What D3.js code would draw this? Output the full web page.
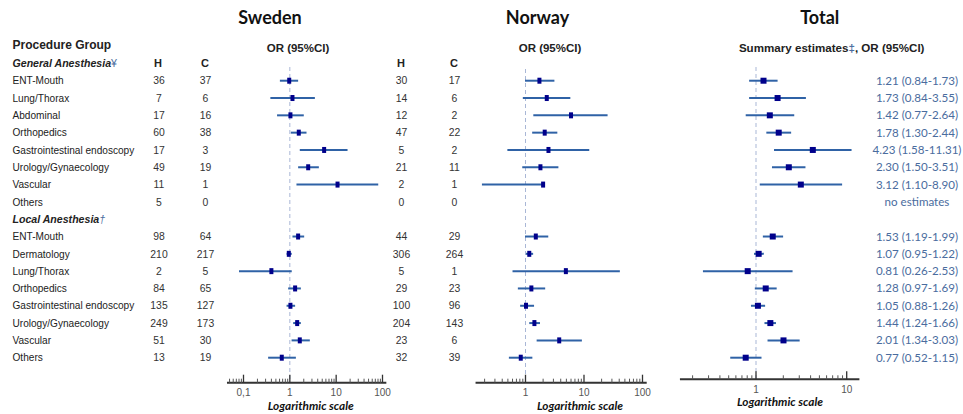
<!DOCTYPE html>
<html><head><meta charset="utf-8">
<script src="https://cdn.jsdelivr.net/npm/d3@7"></script>
<style>
html,body{margin:0;padding:0;background:#fff;}
svg{display:block;}
</style></head>
<body>
<svg id="chart" width="963" height="414"></svg>
<script>
// ---------------- DATA ----------------
const generalLabels = ["ENT-Mouth","Lung/Thorax","Abdominal","Orthopedics","Gastrointestinal endoscopy","Urology/Gynaecology","Vascular","Others"];
const localLabels   = ["ENT-Mouth","Dermatology","Lung/Thorax","Orthopedics","Gastrointestinal endoscopy","Urology/Gynaecology","Vascular","Others"];

const swedenH = [36,7,17,60,17,49,11,5, 98,210,2,84,135,249,51,13];
const swedenC = [37,6,16,38,3,19,1,0, 64,217,5,65,127,173,30,19];
const norwayH = [30,14,12,47,5,21,2,0, 44,306,5,29,100,204,23,32];
const norwayC = [17,6,2,22,2,11,1,0, 29,264,1,23,96,143,6,39];

const swedenOR = [0.97,1.14,1.03,1.56,5.5,2.49,10.7,null, 1.51,0.95,0.40,1.30,1.03,1.44,1.64,0.67];
const swedenLo = [0.61,0.38,0.53,1.05,1.64,1.51,1.39,null, 1.14,0.85,0.08,0.92,0.85,1.18,1.09,0.34];
const swedenHi = [1.51,3.47,2.00,2.29,17.6,4.23,80.9,null, 2.04,1.10,1.10,1.73,1.30,1.73,2.70,1.35];

const norwayOR = [1.73,2.31,6.0,2.13,2.47,1.80,2.00,null, 1.50,1.16,4.9,1.26,1.02,1.42,3.77,0.83];
const norwayLo = [0.98,0.90,1.36,1.30,0.49,0.88,0.18,null, 0.98,1.02,0.60,0.74,0.81,1.16,1.55,0.52];
const norwayHi = [3.12,5.84,25.3,3.50,12.3,3.65,2.15,null, 2.45,1.35,41,2.17,1.40,1.77,9.2,1.31];

const totalOR = [1.21,1.73,1.42,1.78,4.23,2.30,3.12,null, 1.53,1.07,0.81,1.28,1.05,1.44,2.01,0.77];
const totalLo = [0.84,0.84,0.77,1.30,1.58,1.50,1.10,null, 1.19,0.95,0.26,0.97,0.88,1.24,1.34,0.52];
const totalHi = [1.73,3.55,2.64,2.44,11.31,3.51,8.90,null, 1.99,1.22,2.53,1.69,1.26,1.66,3.03,1.15];

const swedenTicks = [0.1,1,10,100];
const swedenTickLabels = ["0,1","1","10","100"];
const norwayTicks = [1,10,100];
const norwayTickLabels = ["1","10","100"];
const totalTicks = [1,10];
const totalTickLabels = ["1","10"];

// ---------------- LAYOUT ----------------
const svg = d3.select("#chart");
const labelFont = "'Liberation Sans', Arial, sans-serif";
const calFont = "Lato, 'Open Sans', sans-serif";
const whiskerColor = "#2f62a6";
const squareColor = "#00008b";
const blueText = "#4a6c9e";

const yRow = d3.scaleLinear().domain([0,17]).range([63.4,357.7]);
const rowOf = i => i < 8 ? i + 1 : i + 2;

const xSw = d3.scaleLog().domain([0.1,100]).range([243.5,382.5]);
const xNo = d3.scaleLog().domain([1,100]).range([525.5,642.5]);
const xTo = d3.scaleLog().domain([1,10]).range([756,846.7]);

function txt(x,y,s,opt){
  const t = svg.append("text").attr("x",x).attr("y",y).text(s)
    .attr("font-family",opt.family||labelFont)
    .attr("font-size",opt.size||10.3)
    .attr("fill",opt.fill||"#222")
    .attr("text-anchor",opt.anchor||"start");
  if(opt.weight) t.attr("font-weight",opt.weight);
  if(opt.style) t.attr("font-style",opt.style);
  return t;
}

// ---------------- HEADERS ----------------
txt(270,24,"Sweden",{family:calFont,size:18,weight:"bold",anchor:"middle",fill:"#111"});
txt(537.5,24,"Norway",{family:calFont,size:18,weight:"bold",anchor:"middle",fill:"#111"});
txt(819.7,24,"Total",{family:calFont,size:18,weight:"bold",anchor:"middle",fill:"#111"});

txt(12.5,48.5,"Procedure Group",{size:12,weight:"bold"});
txt(298,52,"OR (95%CI)",{size:11.5,weight:"bold",anchor:"middle"});
txt(550,52,"OR (95%CI)",{size:11.5,weight:"bold",anchor:"middle"});
const sum = txt(831.7,52,"Summary estimates",{size:11.6,weight:"bold",anchor:"middle"});
sum.append("tspan").attr("fill",blueText).text("‡");
sum.append("tspan").text(", OR (95%CI)");

const g1 = txt(12.5,yRow(0)+3.8,"General Anesthesia",{size:10.6,weight:"bold",style:"italic"});
g1.append("tspan").attr("fill",blueText).attr("font-style","normal").attr("font-weight","normal").text("¥");
const g2 = txt(12.5,yRow(9)+3.8,"Local Anesthesia",{size:10.6,weight:"bold",style:"italic"});
g2.append("tspan").attr("fill",blueText).attr("font-weight","normal").text("†");

[["H",158],["C",205],["H",401],["C",454]].forEach(([s,x])=>{
  txt(x,yRow(0)+4,s,{size:11,weight:"bold",anchor:"middle"});
});

const labels = generalLabels.concat(localLabels);
labels.forEach((l,i)=>{
  const y = yRow(rowOf(i))+3.7;
  txt(12.5,y,l,{size:10.1});
  txt(159,y,swedenH[i],{size:10.4,anchor:"middle",fill:"#333"});
  txt(205.5,y,swedenC[i],{size:10.4,anchor:"middle",fill:"#333"});
  txt(401.5,y,norwayH[i],{size:10.4,anchor:"middle",fill:"#333"});
  txt(454.5,y,norwayC[i],{size:10.4,anchor:"middle",fill:"#333"});
});

// ---------------- FOREST PANELS ----------------
function panel(x, OR, LO, HI, ticks, tickLabels, extent, axisY, refTop, sqW, sqH, label){
  svg.append("line").attr("x1",x(1)).attr("x2",x(1)).attr("y1",refTop).attr("y2",axisY)
    .attr("stroke","#a9b7d6").attr("stroke-width",1).attr("stroke-dasharray","4,3");
  OR.forEach((v,i)=>{
    if(v==null) return;
    const y = yRow(rowOf(i));
    svg.append("line").attr("x1",x(LO[i])).attr("x2",x(HI[i])).attr("y1",y).attr("y2",y)
      .attr("stroke",whiskerColor).attr("stroke-width",2);
    svg.append("rect").attr("x",x(v)-sqW/2).attr("y",y-sqH/2).attr("width",sqW).attr("height",sqH)
      .attr("fill",squareColor);
  });
  const [a,b] = extent;
  svg.append("line").attr("x1",x(a)).attr("x2",x(b)).attr("y1",axisY).attr("y2",axisY)
    .attr("stroke","#333").attr("stroke-width",2);
  const minor = [];
  for(let e=-3;e<=3;e++){
    for(let m=2;m<=9;m++){
      const v = m*Math.pow(10,e);
      if(v>=a && v<=b) minor.push(v);
    }
  }
  minor.forEach(v=>{
    svg.append("line").attr("x1",x(v)).attr("x2",x(v)).attr("y1",axisY-4).attr("y2",axisY)
      .attr("stroke","#555").attr("stroke-width",1);
  });
  ticks.forEach((v,k)=>{
    svg.append("line").attr("x1",x(v)).attr("x2",x(v)).attr("y1",axisY-8).attr("y2",axisY)
      .attr("stroke","#333").attr("stroke-width",1.3);
    txt(x(v),axisY+13.5,tickLabels[k],{size:10,anchor:"middle",fill:"#555"});
  });
  txt(label[0],label[1],"Logarithmic scale",{family:calFont,size:11.8,weight:"bold",style:"italic",anchor:"middle",fill:"#111"});
}

panel(xSw, swedenOR, swedenLo, swedenHi, swedenTicks, swedenTickLabels, [0.044,121], 382.7, 67, 4, 6, [310.8,409.5]);
panel(xNo, norwayOR, norwayLo, norwayHi, norwayTicks, norwayTickLabels, [0.14,118], 382.7, 69, 4, 6, [580,409.5]);
panel(xTo, totalOR, totalLo, totalHi, totalTicks, totalTickLabels, [0.145,13.8], 379.3, 67, 6, 6, [780,406]);

const fmt = d3.format(".2f");
totalOR.forEach((v,i)=>{
  const y = yRow(rowOf(i))+4;
  const s = v==null ? "no estimates" : `${fmt(v)} (${fmt(totalLo[i])}-${fmt(totalHi[i])})`;
  txt(917,y,s,{family:calFont,size:11.6,anchor:"middle",fill:blueText});
});
</script>
</body></html>
